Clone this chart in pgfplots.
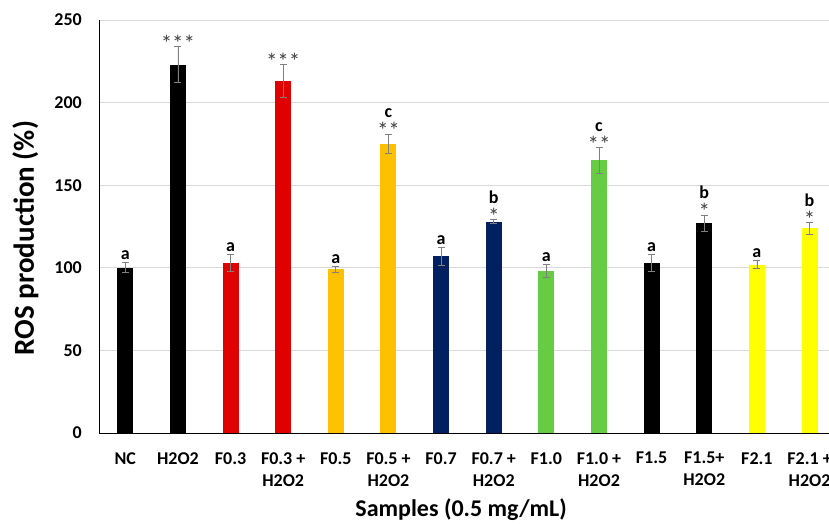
\documentclass[border=0pt]{standalone}
\usepackage{fontspec}
\setmainfont{Carlito}
\usepackage{pgfplots}
\pgfplotsset{compat=1.18}
\definecolor{cred}{HTML}{E00000}
\definecolor{cgold}{HTML}{FFC000}
\definecolor{cnavy}{HTML}{002060}
\definecolor{cgreen}{HTML}{66CC44}
\definecolor{cyellow}{HTML}{FFFF00}
\definecolor{gridc}{HTML}{D9D9D9}
\definecolor{errc}{HTML}{808080}
\definecolor{starc}{HTML}{404040}
\pgfplotsset{
  mybar/.style={ybar, bar width=16pt, bar shift=0pt, draw=none, fill=#1,
    error bars/y dir=both, error bars/y explicit,
    error bars/error bar style={errc, line width=0.8pt},
    error bars/error mark options={rotate=90, errc, mark size=3.5pt, line width=0.8pt}},
}
\newcommand{\lab}[2]{\node[anchor=base, inner sep=0pt, yshift=3pt, font=\fontsize{18}{22}\selectfont\bfseries] at (axis cs:#1) {#2};}
\newcommand{\stars}[2]{\node[anchor=base, inner sep=0pt, yshift=-5pt, text=starc, font=\fontsize{23}{26}\selectfont] at (axis cs:#1) {#2};}
\newcommand{\labst}[3]{\node[anchor=base, inner sep=0pt, yshift=-5pt, text=starc, font=\fontsize{23}{26}\selectfont] at (axis cs:#1) {#3};
  \node[anchor=base, inner sep=0pt, yshift=16pt, font=\fontsize{18}{22}\selectfont\bfseries] at (axis cs:#1) {#2};}
\begin{document}
\begin{tikzpicture}[x=1pt,y=1pt]
\begin{axis}[
  at={(99pt,90pt)}, anchor=south west,
  scale only axis, width=730pt, height=413pt,
  xmin=-0.5, xmax=13.37, ymin=0, ymax=250,
  ytick={0,50,...,250}, xtick={0,...,13},
  xticklabels={NC,H2O2,F0.3,{F0.3 +\\H2O2},F0.5,{F0.5 +\\H2O2},F0.7,{F0.7 +\\H2O2},F1.0,{F1.0 +\\H2O2},F1.5,{F1.5+\\H2O2},F2.1,{F2.1 +\\H2O2}},
  axis x line*=bottom, axis y line*=left,
  axis line style={black, line width=0.8pt},
  ymajorgrids, major grid style={gridc, line width=1pt},
  major tick length=0pt,
  /pgf/number format/assume math mode=true,
  yticklabel style={font=\fontsize{18}{22}\selectfont\bfseries, inner sep=0pt, anchor=east, xshift=-17pt},
  xticklabel style={font=\fontsize{18}{22}\selectfont\bfseries, inner sep=0pt, anchor=north, align=center, yshift=-19pt},
  ylabel={ROS production (\%)},
  ylabel style={at={(rel axis cs:-0.101,0.472)}, anchor=center, rotate=0, font=\fontsize{29}{34}\selectfont\bfseries},
  xlabel={Samples (0.5 mg/mL)},
  xlabel style={at={(rel axis cs:0.496,0)}, anchor=center, yshift=-77pt, font=\fontsize{24}{28}\selectfont\bfseries},
  clip=false,
]
\addplot[mybar=black] coordinates {(0,100) +- (0,3)};
\addplot[mybar=black] coordinates {(1,223) +- (0,11)};
\addplot[mybar=cred] coordinates {(2,103) +- (0,5)};
\addplot[mybar=cred] coordinates {(3,213) +- (0,10)};
\addplot[mybar=cgold] coordinates {(4,99) +- (0,2)};
\addplot[mybar=cgold] coordinates {(5,175) +- (0,6)};
\addplot[mybar=cnavy] coordinates {(6,107) +- (0,5.5)};
\addplot[mybar=cnavy] coordinates {(7,128) +- (0,1)};
\addplot[mybar=cgreen] coordinates {(8,98) +- (0,4)};
\addplot[mybar=cgreen] coordinates {(9,165) +- (0,8)};
\addplot[mybar=black] coordinates {(10,103) +- (0,5)};
\addplot[mybar=black] coordinates {(11,127) +- (0,5)};
\addplot[mybar=cyellow] coordinates {(12,102) +- (0,2.5)};
\addplot[mybar=cyellow] coordinates {(13,124) +- (0,3.5)};
\lab{0,103}{a}
\stars{1,234}{***}
\lab{2,108}{a}
\stars{3,223}{***}
\lab{4,101}{a}
\labst{5,181}{c}{**}
\lab{6,112.5}{a}
\labst{7,129}{b}{*}
\lab{8,102}{a}
\labst{9,173}{c}{**}
\lab{10,108}{a}
\labst{11,132}{b}{*}
\lab{12,104.5}{a}
\labst{13,127.5}{b}{*}
\end{axis}
\pgfresetboundingbox
\useasboundingbox (0,0) rectangle (829,523);
\end{tikzpicture}
\end{document}
